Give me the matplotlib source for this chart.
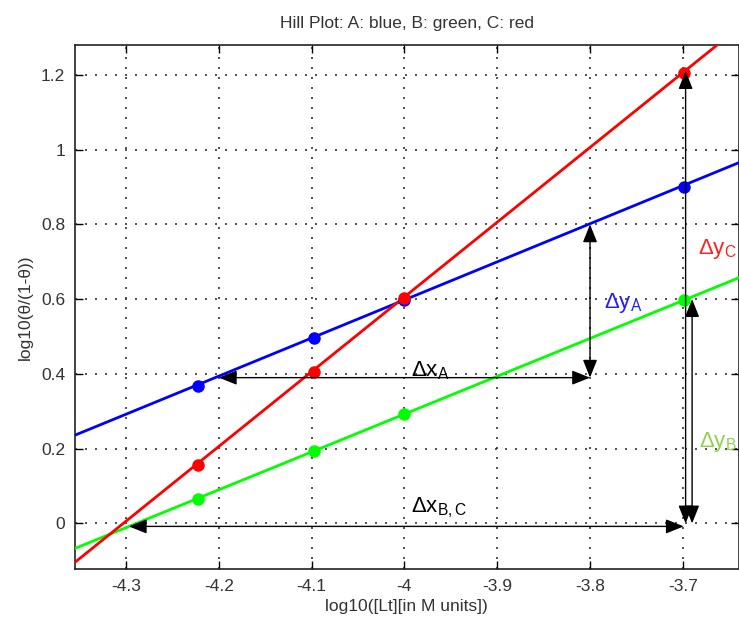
import matplotlib
matplotlib.use("Agg")
import matplotlib.pyplot as plt

plt.rcParams['font.family'] = ['Liberation Sans', 'DejaVu Sans']
plt.rcParams['mathtext.fontset'] = 'custom'
plt.rcParams['mathtext.rm'] = 'Liberation Sans'

# Data points (log10 concentration, log10(theta/(1-theta)))
x_pts = [-4.222, -4.097, -4.0, -3.699]
a_pts = [0.368, 0.497, 0.598, 0.900]   # blue
b_pts = [0.065, 0.194, 0.292, 0.598]   # green
c_pts = [0.156, 0.406, 0.603, 1.205]   # red

# Fitted line endpoints
fit_x = [-4.36, -3.63]
a_fit = [0.231, 0.975]
b_fit = [-0.072, 0.667]
c_fit = [-0.114, 1.346]

xticks = [-4.3, -4.2, -4.1, -4.0, -3.9, -3.8, -3.7]
xticklabels = ['-4.3', '-4.2', '-4.1', '-4', '-3.9', '-3.8', '-3.7']
yticks = [0, 0.2, 0.4, 0.6, 0.8, 1.0, 1.2]
yticklabels = ['0', '0.2', '0.4', '0.6', '0.8', '1', '1.2']

fig = plt.figure(figsize=(7.39, 6.22), dpi=100)
ax = fig.add_axes([75/739, 53/622, 663.5/739, 524/622])

ax.plot(fit_x, a_fit, color='#0000ff', lw=2.0, zorder=3)
ax.plot(fit_x, b_fit, color='#00ff00', lw=2.0, zorder=3)
ax.plot(fit_x, c_fit, color='#ff0000', lw=2.0, zorder=3)
ax.plot(x_pts, a_pts, 'o', color='#0000ff', ms=8, zorder=4)
ax.plot(x_pts, b_pts, 'o', color='#00ff00', ms=8, zorder=4)
ax.plot(x_pts, c_pts, 'o', color='#ff0000', ms=8, zorder=5)

ax.set_xlim(-4.355, -3.640)
ax.set_ylim(-0.122, 1.280)
ax.set_xticks(xticks)
ax.set_xticklabels(xticklabels)
ax.set_yticks(yticks)
ax.set_yticklabels(yticklabels)
ax.tick_params(direction='in', length=6, width=1, top=True, right=True,
               labelsize=12.5, labelcolor='#333333', pad=7)
ax.grid(True, linestyle=(0, (1.2, 4.8)), color='#333333', lw=1.2)
for s in ax.spines.values():
    s.set_linewidth(1.2)
    s.set_color('#222222')

ax.set_title('Hill Plot: A: blue, B: green, C: red', fontsize=12.5,
             color='#333333', pad=12)
ax.set_xlabel('log10([Lt][in M units])', fontsize=12.5, color='#333333', labelpad=4)
ax.set_ylabel('log10(θ/(1-θ))', fontsize=12.5, color='#333333', labelpad=6)

arrow = dict(arrowstyle='<|-|>,head_length=0.55,head_width=0.22', color='black',
             lw=1.0, mutation_scale=20, shrinkA=0, shrinkB=0)
# Delta x A
ax.annotate('', xy=(-4.2, 0.39), xytext=(-3.8, 0.39), arrowprops=arrow, zorder=6)
# Delta y A
ax.annotate('', xy=(-3.8, 0.39), xytext=(-3.8, 0.80), arrowprops=arrow, zorder=6)
# Delta x B,C
ax.annotate('', xy=(-4.297, -0.008), xytext=(-3.699, -0.008), arrowprops=arrow, zorder=6)
# Delta y C
ax.annotate('', xy=(-3.697, 0.0), xytext=(-3.697, 1.21), arrowprops=arrow, zorder=6)
# Delta y B
ax.annotate('', xy=(-3.690, 0.0), xytext=(-3.690, 0.600), arrowprops=arrow, zorder=6)

ax.text(-3.993, 0.393, r'$\mathregular{\Delta x_A}$', fontsize=16, color='black', zorder=7)
ax.text(-3.993, 0.030, r'$\mathregular{\Delta x_{B,C}}$', fontsize=16, color='black', zorder=7)
ax.text(-3.785, 0.575, r'$\mathregular{\Delta y_A}$', fontsize=16, color='#1f1fff', zorder=7)
ax.text(-3.684, 0.720, r'$\mathregular{\Delta y_C}$', fontsize=16, color='#ff2020', zorder=7)
ax.text(-3.683, 0.205, r'$\mathregular{\Delta y_B}$', fontsize=16, color='#92d050', zorder=7)

fig.savefig('out.png', dpi=100)
